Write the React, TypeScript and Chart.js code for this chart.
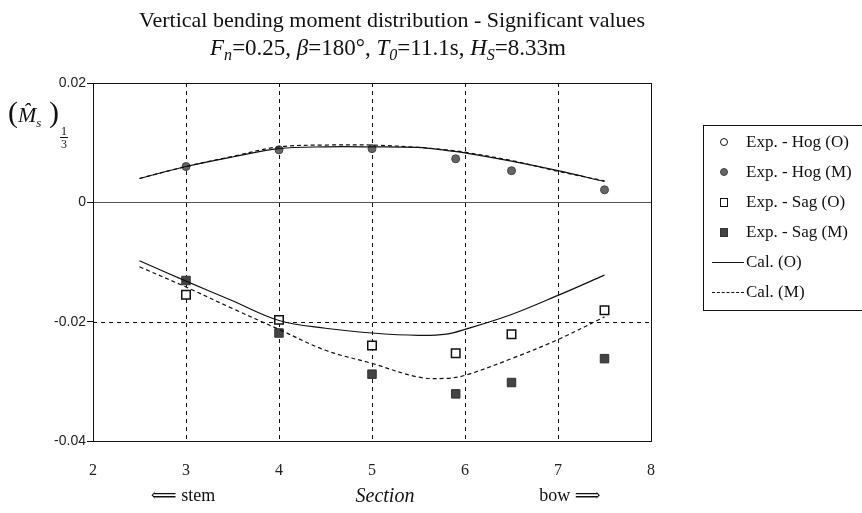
import React, { useEffect, useRef } from "react";
import { Chart, registerables } from "chart.js";
Chart.register(...registerables);

// ---- data ----
const sections = [3, 4, 5, 5.9, 6.5, 7.5];
const expHogO: number[] = [];
const expHogM = [0.006, 0.0088, 0.009, 0.0073, 0.0053, 0.0021];
const expSagO = [-0.0155, -0.0197, -0.024, -0.0253, -0.0221, -0.0181];
const expSagM = [-0.0131, -0.0219, -0.0288, -0.0321, -0.0302, -0.0262];

const calSections = [2.5, 3, 3.5, 4, 4.5, 5, 5.5, 5.8, 6, 6.5, 7, 7.5];
const calHogO = [0.004, 0.006, 0.0076, 0.009, 0.0093, 0.0093, 0.0092, 0.0087, 0.0083, 0.0069, 0.0053, 0.0035];
const calHogM = [0.004, 0.006, 0.0077, 0.0093, 0.0096, 0.0096, 0.0092, 0.0088, 0.0084, 0.007, 0.0052, 0.0036];
const calSagO = [-0.0098, -0.0132, -0.0165, -0.0198, -0.0211, -0.0219, -0.0223, -0.0221, -0.0213, -0.0188, -0.0156, -0.0122];
const calSagM = [-0.0108, -0.0142, -0.0178, -0.0213, -0.0248, -0.027, -0.0293, -0.0295, -0.029, -0.0262, -0.023, -0.0192];

const xTicks = [2, 3, 4, 5, 6, 7, 8];
const xTickLabels = ["2", "3", "4", "5", "6", "7", "8"];
const yTicks = [-0.04, -0.02, 0, 0.02];
const yTickLabels = ["-0.04", "-0.02", "0", "0.02"];
const xGridLines = [3, 4, 5, 6, 7];

const pts = (xs: number[], ys: number[]) => ys.map((y, i) => ({ x: xs[i], y }));

const gridPlugin = {
  id: "customGrid",
  beforeDatasetsDraw(chart: any) {
    const { ctx, chartArea: a, scales } = chart;
    const xs = scales.x, ys = scales.y;
    ctx.save();
    ctx.strokeStyle = "#111";
    ctx.lineWidth = 1;
    ctx.setLineDash([4, 4]);
    xGridLines.forEach((v) => {
      const px = Math.round(xs.getPixelForValue(v)) + 0.5;
      ctx.beginPath();
      ctx.moveTo(px, a.top);
      ctx.lineTo(px, a.bottom);
      ctx.stroke();
    });
    const py2 = Math.round(ys.getPixelForValue(-0.02)) + 0.5;
    ctx.beginPath();
    ctx.moveTo(a.left, py2);
    ctx.lineTo(a.right, py2);
    ctx.stroke();
    ctx.setLineDash([]);
    ctx.strokeStyle = "#555";
    const py0 = Math.round(ys.getPixelForValue(0)) + 0.5;
    ctx.beginPath();
    ctx.moveTo(a.left, py0);
    ctx.lineTo(a.right, py0);
    ctx.stroke();
    ctx.strokeStyle = "#111";
    ctx.strokeRect(Math.round(a.left) + 0.5, Math.round(a.top) + 0.5, Math.round(a.right - a.left), Math.round(a.bottom - a.top));
    ctx.restore();
  },
};

function ChartCanvas() {
  const ref = useRef<HTMLCanvasElement>(null);
  useEffect(() => {
    if (!ref.current) return;
    const lineBase = { type: "line" as const, borderColor: "#111", borderWidth: 1.2, pointRadius: 0, tension: 0.35, fill: false };
    const chart = new Chart(ref.current, {
      type: "scatter",
      data: {
        datasets: [
          { ...lineBase, label: "Cal. (O)", data: pts(calSections, calHogO) },
          { ...lineBase, label: "Cal. (M)", data: pts(calSections, calHogM), borderDash: [4, 3] },
          { ...lineBase, label: "Cal. (O) sag", data: pts(calSections, calSagO) },
          { ...lineBase, label: "Cal. (M) sag", data: pts(calSections, calSagM), borderDash: [4, 3] },
          { label: "Exp. - Hog (O)", data: pts(sections, expHogO), pointStyle: "circle", pointRadius: 4, backgroundColor: "#fff", borderColor: "#111", borderWidth: 1 },
          { label: "Exp. - Hog (M)", data: pts(sections, expHogM), pointStyle: "circle", pointRadius: 4, backgroundColor: "#666", borderColor: "#444", borderWidth: 1 },
          { label: "Exp. - Sag (O)", data: pts(sections, expSagO), pointStyle: "rect", pointRadius: 6, backgroundColor: "#fff", borderColor: "#111", borderWidth: 1.5 },
          { label: "Exp. - Sag (M)", data: pts(sections, expSagM), pointStyle: "rect", pointRadius: 6, backgroundColor: "#444", borderColor: "#333", borderWidth: 1 },
        ],
      },
      options: {
        animation: false,
        responsive: false,
        maintainAspectRatio: false,
        layout: { padding: { left: 0, top: 83, right: 211, bottom: 0 } },
        plugins: { legend: { display: false }, tooltip: { enabled: false }, title: { display: false } },
        scales: {
          x: {
            type: "linear",
            min: 2,
            max: 8,
            afterFit: (s: any) => { s.height = 72; },
            afterBuildTicks: (s: any) => { s.ticks = xTicks.map((v) => ({ value: v })); },
            grid: { display: false, drawTicks: false },
            border: { display: false },
            ticks: {
              padding: 20,
              color: "#222",
              font: { family: "Liberation Serif", size: 16 },
              callback: (v: any) => xTickLabels[xTicks.indexOf(Number(v))] ?? "",
            },
          },
          y: {
            type: "linear",
            min: -0.04,
            max: 0.02,
            afterFit: (s: any) => { s.width = 93; },
            afterBuildTicks: (s: any) => { s.ticks = yTicks.map((v) => ({ value: v })); },
            grid: { drawOnChartArea: false, drawTicks: true, tickLength: 6, color: "#111" },
            border: { display: false },
            ticks: {
              padding: 1,
              color: "#222",
              font: { family: "Liberation Sans", size: 14 },
              callback: (v: any) => {
                const i = yTicks.findIndex((t) => Math.abs(t - Number(v)) < 1e-9);
                return i >= 0 ? yTickLabels[i] : "";
              },
            },
          },
        },
      },
      plugins: [gridPlugin],
    } as any);
    return () => chart.destroy();
  }, []);
  return <canvas ref={ref} width={862} height={513} style={{ position: "absolute", left: 0, top: 0, width: 862, height: 513 }} />;
}

const serif = '"Liberation Serif", "DejaVu Serif", serif';
const sub: React.CSSProperties = { fontSize: "0.7em", verticalAlign: "-0.3em", fontStyle: "italic" };

const MX = 724; // legend marker centre
const TX = 746; // legend text start

function LegendItem({ top, kind, label }: { top: number; kind: string; label: string }) {
  let marker: React.ReactNode = null;
  const base: React.CSSProperties = { position: "absolute", boxSizing: "border-box" };
  if (kind === "oc") marker = <div style={{ ...base, left: MX - 4, top: top - 4, width: 8, height: 8, borderRadius: "50%", border: "1px solid #111", background: "#fff" }} />;
  if (kind === "fc") marker = <div style={{ ...base, left: MX - 4, top: top - 4, width: 8, height: 8, borderRadius: "50%", border: "1px solid #444", background: "#666" }} />;
  if (kind === "os") marker = <div style={{ ...base, left: MX - 4, top: top - 4, width: 8, height: 9, border: "1.5px solid #111", background: "#fff" }} />;
  if (kind === "fs") marker = <div style={{ ...base, left: MX - 4, top: top - 4, width: 8, height: 9, border: "1px solid #333", background: "#444" }} />;
  if (kind === "sl") marker = <div style={{ ...base, left: MX - 12, top: top, width: TX - MX + 10, height: 0, borderTop: "1.2px solid #111" }} />;
  if (kind === "dl") marker = <div style={{ ...base, left: MX - 12, top: top, width: TX - MX + 10, height: 0, borderTop: "1.2px dashed #111" }} />;
  return (
    <>
      {marker}
      <div style={{ position: "absolute", left: TX, top: top - 11, font: `17px ${serif}`, color: "#111", whiteSpace: "nowrap", lineHeight: "22px" }}>{label}</div>
    </>
  );
}

export default function App() {
  return (
    <div style={{ position: "absolute", left: 0, top: 0, width: 862, height: 513, overflow: "hidden", background: "#fff", color: "#111" }}>
      <ChartCanvas />
      <div style={{ position: "absolute", left: 0, width: 784, top: 6, textAlign: "center", font: `22px ${serif}`, lineHeight: "28px", whiteSpace: "nowrap" }}>
        Vertical bending moment distribution - Significant values
      </div>
      <div style={{ position: "absolute", left: 0, width: 776, top: 33, textAlign: "center", font: `23px ${serif}`, lineHeight: "30px", whiteSpace: "nowrap" }}>
        <i>F</i><span style={sub}>n</span>=0.25, <i>β</i>=180°, <i>T</i><span style={sub}>0</span>=11.1s, <i>H</i><span style={sub}>S</span>=8.33m
      </div>
      <div style={{ position: "absolute", left: 8, top: 96, font: `22px ${serif}`, whiteSpace: "nowrap", lineHeight: "32px" }}>
        <span style={{ fontSize: 30 }}>(</span>
        <i>M̂</i>
        <span style={{ fontSize: 13, verticalAlign: "-0.4em", fontStyle: "italic" }}>s</span>
        <span style={{ fontSize: 30 }}>&nbsp;)</span>
        <span style={{ display: "inline-flex", flexDirection: "column", alignItems: "center", fontSize: 12, lineHeight: "12px", verticalAlign: "-1.1em", marginLeft: 1 }}>
          <span style={{ borderBottom: "1px solid #111", padding: "0 1px" }}>1</span>
          <span>3</span>
        </span>
      </div>
      <div style={{ position: "absolute", left: 183 - 70, width: 140, top: 484, textAlign: "center", font: `18px ${serif}`, whiteSpace: "nowrap" }}>⟸ stem</div>
      <div style={{ position: "absolute", left: 385 - 70, width: 140, top: 484, textAlign: "center", font: `italic 20px ${serif}`, whiteSpace: "nowrap" }}>Section</div>
      <div style={{ position: "absolute", left: 570 - 70, width: 140, top: 484, textAlign: "center", font: `18px ${serif}`, whiteSpace: "nowrap" }}>bow ⟹</div>
      <div style={{ position: "absolute", left: 703, top: 125, width: 220, height: 186, border: "1px solid #111", boxSizing: "border-box" }} />
      <LegendItem top={142} kind="oc" label="Exp. - Hog (O)" />
      <LegendItem top={172} kind="fc" label="Exp. - Hog (M)" />
      <LegendItem top={202} kind="os" label="Exp. - Sag (O)" />
      <LegendItem top={232} kind="fs" label="Exp. - Sag (M)" />
      <LegendItem top={262} kind="sl" label="Cal. (O)" />
      <LegendItem top={292} kind="dl" label="Cal. (M)" />
    </div>
  );
}
